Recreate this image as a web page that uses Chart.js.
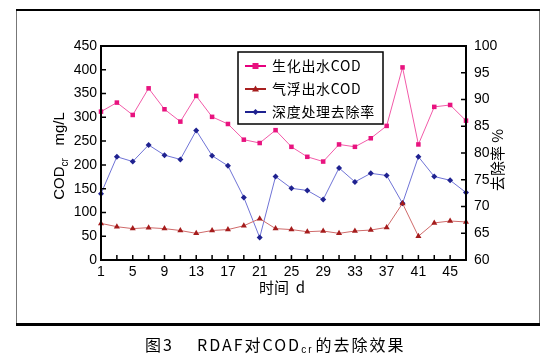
<!DOCTYPE html>
<html>
<head>
<meta charset="utf-8">
<script src="https://cdn.jsdelivr.net/npm/chart.js@4/dist/chart.umd.min.js"></script>
<style>
html, body { margin: 0; padding: 0; background: #fff; }
#wrap { width: 552px; height: 363px; position: relative; }
</style>
</head>
<body>
<div id="wrap"><canvas id="c"></canvas></div>
<script>
// 时间 d（每隔两天一个点）
const days = ['1','3','5','7','9','11','13','15','17','19','21','23','25','27','29','31','33','35','37','39','41','43','45','47'];
// 生化出水COD mg/L
const bioCOD = [312, 331, 305, 361, 317, 291, 345, 301, 286, 253, 246, 273, 238, 217, 207, 243, 238, 256, 282, 405, 243, 322, 326, 293];
// 气浮出水COD mg/L
const flotCOD = [77, 70, 66, 68, 66, 62, 56, 62, 64, 72, 87, 66, 64, 59.5, 61, 56, 61, 63, 68.5, 119, 50, 78, 82, 80];
// 深度处理去除率 %
const removal = [72.4, 79.3, 78.4, 81.5, 79.6, 78.8, 84.2, 79.5, 77.6, 71.7, 64.2, 75.6, 73.4, 73.0, 71.3, 77.2, 74.6, 76.2, 75.8, 70.6, 79.3, 75.6, 74.9, 72.6];

const leftTicks = [0, 50, 100, 150, 200, 250, 300, 350, 400, 450];
const rightTicks = [60, 65, 70, 75, 80, 85, 90, 95, 100];

const seriesNames = ['生化出水COD', '气浮出水COD', '深度处理去除率'];

const CJK = '"Noto Sans CJK SC", sans-serif';
const LAT = '"Liberation Sans", Arial, sans-serif';

// 坐标框、内刻度、轴标题、图例、图题
const decor = {
    id: 'decor',
    afterDatasetsDraw(chart) {
        const ctx = chart.ctx;
        const a = chart.chartArea;
        const sx = chart.scales.x, sy = chart.scales.y, sy1 = chart.scales.y1;
        ctx.save();

        // 外框
        ctx.strokeStyle = '#777';
        ctx.lineWidth = 1;
        ctx.beginPath();
        ctx.moveTo(16.5, 10); ctx.lineTo(16.5, 324);
        ctx.moveTo(539.5, 10); ctx.lineTo(539.5, 324);
        ctx.stroke();
        ctx.strokeStyle = '#000';
        ctx.lineWidth = 2;
        ctx.beginPath(); ctx.moveTo(16, 10); ctx.lineTo(540, 10); ctx.stroke();
        ctx.lineWidth = 3;
        ctx.beginPath(); ctx.moveTo(16, 324.5); ctx.lineTo(540, 324.5); ctx.stroke();

        // 绘图区边框
        ctx.lineWidth = 2;
        ctx.strokeRect(a.left, a.top, a.right - a.left, a.bottom - a.top);

        // 向内的刻度
        ctx.lineWidth = 1.5;
        ctx.beginPath();
        days.forEach((d, i) => {
            const px = sx.getPixelForValue(i);
            ctx.moveTo(px, a.bottom); ctx.lineTo(px, a.bottom - 5);
        });
        leftTicks.forEach(v => {
            const py = sy.getPixelForValue(v);
            ctx.moveTo(a.left, py); ctx.lineTo(a.left + 5, py);
        });
        rightTicks.forEach(v => {
            const py = sy1.getPixelForValue(v);
            ctx.moveTo(a.right, py); ctx.lineTo(a.right - 5, py);
        });
        ctx.stroke();

        ctx.fillStyle = '#000';
        ctx.textBaseline = 'middle';

        // 左轴标题 COD_cr mg/L
        ctx.save();
        ctx.translate(60, 156);
        ctx.rotate(-Math.PI / 2);
        ctx.font = '15px ' + LAT;
        const w1 = ctx.measureText('COD').width;
        ctx.font = '10px ' + LAT;
        const w2 = ctx.measureText('cr').width;
        ctx.font = '15px ' + LAT;
        const w3 = ctx.measureText('   mg/L').width;
        let x0 = -(w1 + w2 + w3) / 2;
        ctx.textAlign = 'left';
        ctx.fillText('COD', x0, 0);
        ctx.font = '10px ' + LAT;
        ctx.fillText('cr', x0 + w1, 5);
        ctx.font = '15px ' + LAT;
        ctx.fillText('   mg/L', x0 + w1 + w2, 0);
        ctx.restore();

        // 右轴标题
        ctx.save();
        ctx.translate(497, 160);
        ctx.rotate(-Math.PI / 2);
        ctx.font = '15px ' + CJK;
        ctx.textAlign = 'center';
        ctx.fillText('去除率 %', 0, 0);
        ctx.restore();

        // 横轴标题
        ctx.font = '15px ' + CJK;
        ctx.textAlign = 'center';
        ctx.fillText('时间  d', 282, 287);

        // 图例
        ctx.fillStyle = '#fff';
        ctx.fillRect(238, 52, 145, 72);
        ctx.strokeStyle = '#000';
        ctx.lineWidth = 1.5;
        ctx.strokeRect(238, 52, 145, 72);
        const rows = [66, 89, 112];
        chart.data.datasets.forEach((ds, i) => {
            const y = rows[i];
            ctx.strokeStyle = ds.legendColor;
            ctx.lineWidth = 2;
            ctx.beginPath(); ctx.moveTo(245, y); ctx.lineTo(266, y); ctx.stroke();
            ctx.fillStyle = ds.pointBackgroundColor;
            ctx.beginPath();
            if (ds.pointStyle === 'rect') {
                ctx.rect(252.5, y - 3, 6, 6);
            } else if (ds.pointStyle === 'triangle') {
                ctx.moveTo(255.5, y - 3.5); ctx.lineTo(259, y + 2.5); ctx.lineTo(252, y + 2.5); ctx.closePath();
            } else {
                ctx.moveTo(255.5, y - 3); ctx.lineTo(258.5, y); ctx.lineTo(255.5, y + 3); ctx.lineTo(252.5, y); ctx.closePath();
            }
            ctx.fill();
            ctx.fillStyle = '#000';
            ctx.font = '14px ' + CJK;
            ctx.textAlign = 'left';
            ctx.letterSpacing = '0.7px';
            ctx.fillText(seriesNames[i], 272, y);
            ctx.letterSpacing = '0px';
        });

        // 图题
        ctx.fillStyle = '#000';
        ctx.textAlign = 'left';
        ctx.letterSpacing = '2px';
        ctx.font = '16px ' + CJK;
        ctx.fillText('图3', 145, 345);
        let cx = 197;
        ctx.fillText('RDAF对COD', cx, 345);
        cx += ctx.measureText('RDAF对COD').width;
        ctx.font = '10px ' + LAT;
        ctx.fillText('cr', cx, 350);
        cx += ctx.measureText('cr').width + 2;
        ctx.font = '16px ' + CJK;
        ctx.fillText('的去除效果', cx, 345);
        ctx.letterSpacing = '0px';

        ctx.restore();
    }
};

const ctx = document.getElementById('c').getContext('2d');
new Chart(ctx, {
    type: 'line',
    data: {
        labels: days,
        datasets: [
            {
                label: seriesNames[0],
                data: bioCOD,
                yAxisID: 'y',
                borderColor: '#f25aa8',
                legendColor: '#e6007e',
                borderWidth: 1,
                pointStyle: 'rect',
                pointRadius: 3.2,
                pointBackgroundColor: '#e8137f',
                pointBorderColor: '#e8137f',
                pointBorderWidth: 0,
                tension: 0,
                clip: false
            },
            {
                label: seriesNames[1],
                data: flotCOD,
                yAxisID: 'y',
                borderColor: '#cf6a6a',
                legendColor: '#a82020',
                borderWidth: 1,
                pointStyle: 'triangle',
                pointRadius: 3.5,
                pointBackgroundColor: '#a51c1c',
                pointBorderColor: '#a51c1c',
                pointBorderWidth: 0,
                tension: 0,
                clip: false
            },
            {
                label: seriesNames[2],
                data: removal,
                yAxisID: 'y1',
                borderColor: '#6f73d6',
                legendColor: '#1f2290',
                borderWidth: 1,
                pointStyle: 'rectRot',
                pointRadius: 3,
                pointBackgroundColor: '#1f2290',
                pointBorderColor: '#1f2290',
                pointBorderWidth: 0,
                tension: 0,
                clip: false
            }
        ]
    },
    options: {
        responsive: true,
        maintainAspectRatio: false,
        animation: false,
        devicePixelRatio: 1,
        layout: { padding: { top: 46, left: 0, right: 0, bottom: 0 } },
        plugins: {
            legend: { display: false },
            tooltip: { enabled: false },
            title: { display: false }
        },
        scales: {
            x: {
                type: 'category',
                offset: false,
                grid: { display: false, drawTicks: false },
                border: { display: false },
                ticks: {
                    autoSkip: false,
                    maxRotation: 0,
                    padding: 4,
                    color: '#000',
                    font: { family: LAT, size: 14 },
                    callback: function(v, i) { return i % 2 === 0 ? this.getLabelForValue(v) : ''; }
                },
                afterFit: s => { s.height = 103; }
            },
            y: {
                position: 'left',
                min: 0,
                max: 450,
                grid: { display: false, drawTicks: false },
                border: { display: false },
                ticks: {
                    stepSize: 50,
                    padding: 4,
                    color: '#000',
                    font: { family: LAT, size: 14 }
                },
                afterFit: s => { s.width = 101; }
            },
            y1: {
                position: 'right',
                min: 60,
                max: 100,
                grid: { display: false, drawTicks: false },
                border: { display: false },
                ticks: {
                    stepSize: 5,
                    padding: 8,
                    color: '#000',
                    font: { family: LAT, size: 14 }
                },
                afterFit: s => { s.width = 86; }
            }
        }
    },
    plugins: [decor]
});
</script>
</body>
</html>
